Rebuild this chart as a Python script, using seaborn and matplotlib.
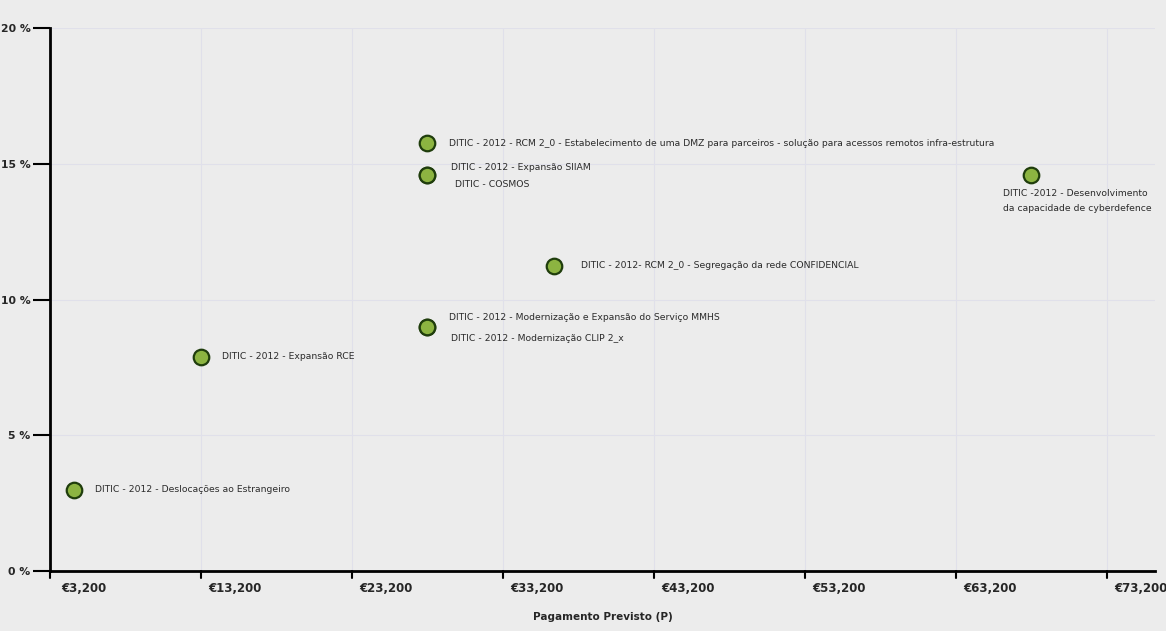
# %%
# set up
import matplotlib
matplotlib.use('Agg')
import pandas as pd
import numpy as np
import seaborn as sns
from matplotlib import pyplot as plt
from matplotlib.ticker import FixedLocator, FuncFormatter
import matplotlib.transforms as mtransforms

sns.set_style('white', {'axes.facecolor': '#ececec', 'figure.facecolor': '#ececec'})
plt.rcParams['font.family'] = ['DejaVu Sans']

# %%
# data
projects = [
    "DITIC - 2012 - Deslocações ao Estrangeiro",
    "DITIC - 2012 - Expansão RCE",
    "DITIC - 2012 - RCM 2_0 - Estabelecimento de uma DMZ para parceiros - solução para acessos remotos infra-estrutura",
    "DITIC - 2012 - Expansão SIIAM",
    "DITIC - COSMOS",
    "DITIC - 2012 - Modernização e Expansão do Serviço MMHS",
    "DITIC - 2012 - Modernização CLIP 2_x",
    "DITIC - 2012- RCM 2_0 - Segregação da rede CONFIDENCIAL",
    "DITIC -2012 - Desenvolvimento\nda capacidade de cyberdefence",
]
pagamento = [4790, 13200, 28170, 28170, 28170, 28170, 28170, 36580, 68170]
percent = [3.0, 7.9, 15.75, 14.6, 14.6, 9.0, 9.0, 11.25, 14.6]
x_ticks = [3200, 13200, 23200, 33200, 43200, 53200, 63200, 73200]
y_ticks = [0, 5, 10, 15, 20]

df = pd.DataFrame({'project': projects, 'pagamento': pagamento, 'percent': percent})

# label placement (pixel offset from marker, up is positive), style only
label_offsets = [(21, 0, 'center'), (21, 0, 'center'), (22, 0, 'center'),
                 (24, 7, 'center'), (28, -10, 'center'),
                 (22, 9, 'center'), (24, -12, 'center'),
                 (27, 0, 'center'), (-28, -14, 'top')]

# %%
fig = plt.figure(figsize=(11.66, 6.31), dpi=100)
ax = fig.add_axes([50 / 1166, 60 / 631, 1105 / 1166, 543 / 631])

sns.scatterplot(data=df, x='pagamento', y='percent', ax=ax, s=125,
                color='#8cb441', edgecolor='#1f3d0c', linewidth=1.6, zorder=3)

for (_, row), (dx, dy, va) in zip(df.iterrows(), label_offsets):
    ax.annotate(row['project'], (row['pagamento'], row['percent']),
                xytext=(dx, dy), textcoords='offset pixels',
                ha='left', va=va, fontsize=6.65, color='#2b2b2b', linespacing=1.95)

ax.set_xlim(3200, 3200 + 1105 / 151 * 10000)
ax.set_ylim(0, 20)
ax.xaxis.set_major_locator(FixedLocator(x_ticks))
ax.yaxis.set_major_locator(FixedLocator(y_ticks))
ax.xaxis.set_major_formatter(FuncFormatter(lambda v, p: f"€{int(v):,}"))
ax.yaxis.set_major_formatter(FuncFormatter(lambda v, p: f"{int(v)} %"))

ax.grid(True, color='#e0e0ea', linewidth=0.8)
for s in ['top', 'right']:
    ax.spines[s].set_visible(False)
for s in ['left', 'bottom']:
    ax.spines[s].set_color('black')
    ax.spines[s].set_linewidth(2)

ax.tick_params(axis='y', length=12, width=1.5, color='black', pad=2,
               labelsize=7.8, left=True)
ax.tick_params(axis='x', direction='in', length=0, pad=8, labelsize=7.5, bottom=True)
for lbl in ax.get_yticklabels():
    lbl.set_fontweight('bold')
for lbl in ax.get_xticklabels():
    lbl.set_fontweight('bold')
    lbl.set_family(['Liberation Sans Narrow', 'DejaVu Sans'])
    lbl.set_fontsize(8.5)
    lbl.set_transform(lbl.get_transform() + mtransforms.ScaledTranslation(0.34, 0, fig.dpi_scale_trans))

# tick marks below axis
for xt in x_ticks:
    ax.plot([xt, xt], [0, -0.25], color='black', linewidth=1.5, clip_on=False, zorder=4)

ax.set_xlabel("Pagamento Previsto (P)", fontsize=7.5, fontweight='bold',
              family=['Liberation Sans Narrow', 'DejaVu Sans'], labelpad=12)
ax.set_ylabel("")

fig.savefig('out.png', dpi=100, facecolor='#ececec')
